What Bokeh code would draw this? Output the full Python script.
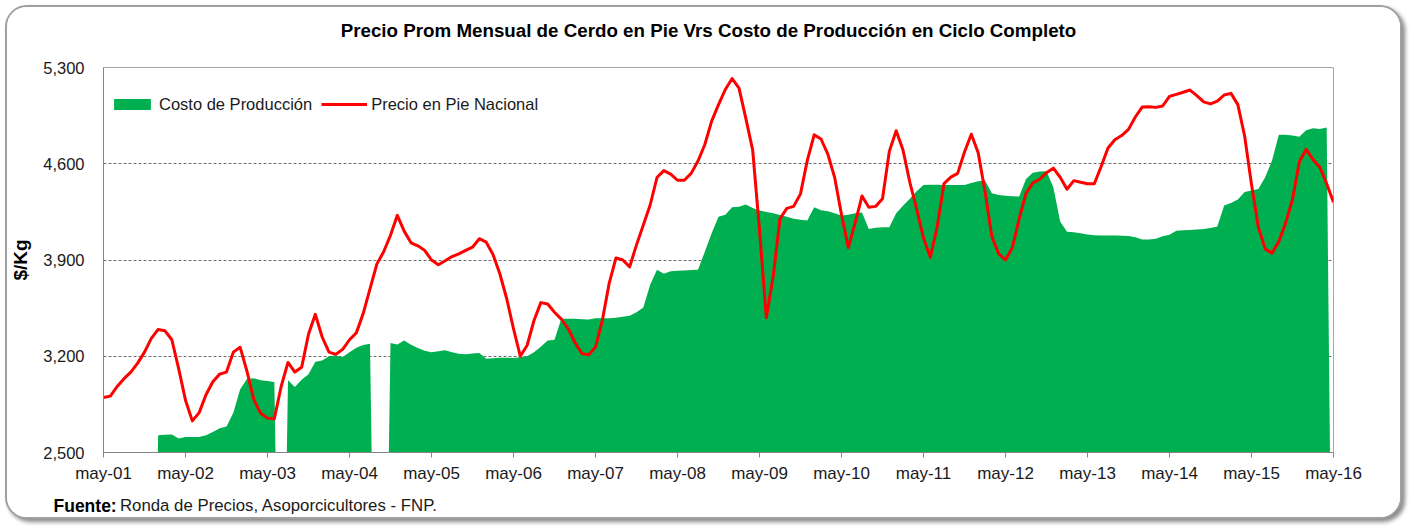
from bokeh.plotting import figure
from bokeh.layouts import column
from bokeh.models import (FixedTicker, NumeralTickFormatter, Legend, LegendItem, Label, Range1d)
from bokeh.embed import file_html
from bokeh.resources import INLINE

title_text = "Precio Prom Mensual de Cerdo en Pie Vrs Costo de Producción en Ciclo Completo"
source_bold = "Fuente:"
source_text = "Ronda de Precios, Asoporcicultores  - FNP."
y_label = "$/Kg"
series_names = ["Costo de Producción", "Precio en Pie Nacional"]

# months since may-01 (0 = may-01 ... 180 = may-16)
tick_years = ["01", "02", "03", "04", "05", "06", "07", "08", "09", "10", "11", "12", "13", "14", "15", "16"]
tick_labels = ["may-" + y for y in tick_years]
y_ticks = [2500, 3200, 3900, 4600, 5300]

precio = [
    2900, 2910, 2980, 3037, 3085, 3150, 3230, 3330, 3395, 3385, 3320, 3110,   # may-01
    2880, 2730, 2790, 2920, 3015, 3070, 3085, 3230, 3265, 3090, 2885, 2785,   # may-02
    2750, 2745, 2980, 3155, 3085, 3120, 3360, 3505, 3340, 3230, 3214, 3250,   # may-03
    3320, 3370, 3510, 3690, 3870, 3960, 4080, 4225, 4110, 4025, 4003, 3970,   # may-04
    3900, 3866, 3895, 3925, 3945, 3970, 3993, 4055, 4030, 3940, 3800, 3620,   # may-05
    3400, 3200, 3280, 3460, 3590, 3580, 3520, 3470, 3400, 3300, 3220, 3210,   # may-06
    3267, 3461, 3730, 3915, 3900, 3850, 4010, 4155, 4300, 4500, 4550, 4525,   # may-07
    4480, 4480, 4530, 4620, 4740, 4910, 5030, 5140, 5220, 5150, 4930, 4700,   # may-08
    4120, 3480, 3780, 4200, 4275, 4290, 4381, 4625, 4810, 4780, 4670, 4500,   # may-09
    4230, 3990, 4170, 4365, 4283, 4290, 4345, 4690, 4840, 4700, 4465, 4270,   # may-10
    4060, 3920, 4140, 4455, 4503, 4530, 4685, 4815, 4680, 4400, 4070, 3945,   # may-11
    3900, 3990, 4200, 4385, 4460, 4487, 4535, 4568, 4502, 4415, 4477, 4465,   # may-12
    4455, 4455, 4580, 4715, 4775, 4805, 4850, 4940, 5012, 5014, 5010, 5020,   # may-13
    5090, 5105, 5120, 5136, 5095, 5050, 5035, 5055, 5100, 5112, 5030, 4800,   # may-14
    4450, 4140, 3981, 3950, 4035, 4170, 4340, 4615, 4705, 4630, 4575, 4455,   # may-15
    4320,                                                                     # may-16
]

costo = [
    0, 0, 0, 0, 0, 0, 0, 0, 2626, 2630, 2631, 2602,                           # may-01
    2613, 2613, 2613, 2625, 2650, 2676, 2690, 2790, 2960, 3035, 3040, 3025,   # may-02
    3020, 3013, 0, 3025, 2976, 3030, 3070, 3160, 3170, 3200, 3205, 3194,      # may-03
    3230, 3262, 3282, 3291, 0, 0, 3296, 3286, 3315, 3283, 3260, 3240,         # may-04
    3230, 3236, 3243, 3230, 3218, 3214, 3220, 3223, 3182, 3186, 3190, 3190,   # may-05
    3188, 3192, 3200, 3230, 3270, 3315, 3320, 3473, 3473, 3473, 3470, 3468,   # may-06
    3476, 3477, 3477, 3480, 3488, 3495, 3520, 3555, 3720, 3830, 3800, 3819,   # may-07
    3822, 3824, 3827, 3829, 3960, 4095, 4215, 4230, 4283, 4288, 4303, 4279,   # may-08
    4260, 4250, 4240, 4228, 4215, 4200, 4192, 4187, 4283, 4262, 4255, 4240,   # may-09
    4223, 4230, 4240, 4245, 4125, 4135, 4138, 4138, 4240, 4295, 4345, 4400,   # may-10
    4445, 4448, 4448, 4446, 4446, 4446, 4446, 4460, 4472, 4478, 4385, 4372,   # may-11
    4368, 4364, 4361, 4490, 4535, 4543, 4545, 4430, 4180, 4105, 4102, 4095,   # may-12
    4085, 4080, 4078, 4078, 4078, 4076, 4074, 4065, 4050, 4050, 4054, 4073,   # may-13
    4084, 4112, 4116, 4119, 4122, 4125, 4132, 4143, 4296, 4315, 4340, 4395,   # may-14
    4405, 4417, 4501, 4622, 4811, 4811, 4805, 4797, 4843, 4858, 4853, 4864,   # may-15
    0,                                                                        # may-16
]

months = list(range(len(precio)))
tick_pos = [12 * i for i in range(len(tick_labels))]

FONT = "Liberation Sans"


def text_strip(height):
    s = figure(width=1393, height=height, output_backend="svg", toolbar_location=None,
               x_axis_location=None, y_axis_location=None, min_border=0,
               x_range=Range1d(0, 1), y_range=Range1d(0, 1),
               background_fill_color="white", border_fill_color="white")
    s.frame_align = False
    s.outline_line_color = None
    s.grid.grid_line_color = None
    return s


# header strip with the title
h = text_strip(44)
h.add_layout(Label(x=701, y=21, x_units="screen", y_units="screen", text=title_text,
                   text_align="center", text_baseline="middle", text_font=FONT,
                   text_font_size="18.75px", text_font_style="bold", text_color="#000000"))

# main chart
p = figure(width=1393, height=434, output_backend="svg", toolbar_location=None,
           x_range=Range1d(0, 180), y_range=Range1d(2500, 5300),
           min_border_left=96, min_border_right=67, min_border_top=16, min_border_bottom=33,
           background_fill_color="white", border_fill_color="white")
p.frame_align = False
p.outline_line_color = "#a6a6a6"
p.outline_line_width = 1

area = p.varea(x=months, y1=0, y2=costo, fill_color="#00B050")
line = p.line(x=months, y=precio, line_color="#FF0000", line_width=3, line_join="round")

p.xaxis.ticker = FixedTicker(ticks=tick_pos)
p.xaxis.major_label_overrides = {t: l for t, l in zip(tick_pos, tick_labels)}
p.xaxis.minor_tick_line_color = None
p.xaxis.major_tick_in = 0
p.xaxis.major_tick_out = 5
p.xaxis.major_tick_line_color = "#868686"
p.xaxis.axis_line_color = "#868686"
p.xaxis.major_label_text_font = FONT
p.xaxis.major_label_text_font_size = "17px"
p.xaxis.major_label_text_color = "#1a1a1a"
p.xaxis.major_label_standoff = 6

p.yaxis.ticker = FixedTicker(ticks=y_ticks)
p.yaxis.formatter = NumeralTickFormatter(format="0,0")
p.yaxis.minor_tick_line_color = None
p.yaxis.major_tick_in = 0
p.yaxis.major_tick_out = 0
p.yaxis.axis_line_color = "#868686"
p.yaxis.major_label_text_font = FONT
p.yaxis.major_label_text_font_size = "16.5px"
p.yaxis.major_label_text_color = "#1a1a1a"
p.yaxis.major_label_standoff = 19
p.yaxis.axis_label = y_label
p.yaxis.axis_label_text_font = FONT
p.yaxis.axis_label_text_font_size = "19px"
p.yaxis.axis_label_text_font_style = "bold"
p.yaxis.axis_label_text_color = "#000000"
p.yaxis.axis_label_standoff = 9

p.xgrid.grid_line_color = None
p.ygrid.ticker = FixedTicker(ticks=y_ticks[1:-1])
p.ygrid.grid_line_color = "#707070"
p.ygrid.grid_line_dash = "3 2"
p.ygrid.grid_line_width = 1

legend = Legend(items=[LegendItem(label=series_names[0], renderers=[area]),
                       LegendItem(label=series_names[1], renderers=[line])],
                location="top_left", orientation="horizontal",
                glyph_width=46, glyph_height=14, label_standoff=4, spacing=9,
                label_text_font=FONT, label_text_font_size="16.5px", label_text_color="#1a1a1a",
                border_line_color=None, background_fill_alpha=0, margin=6, padding=12,
                label_height=62)
p.add_layout(legend)

# footer strip with the source note
f = text_strip(32)
f.add_layout(Label(x=46, y=12, x_units="screen", y_units="screen", text=source_bold,
                   text_align="left", text_baseline="middle", text_font=FONT,
                   text_font_size="17.5px", text_font_style="bold", text_color="#000000"))
f.add_layout(Label(x=112.5, y=12, x_units="screen", y_units="screen", text=source_text,
                   text_align="left", text_baseline="middle", text_font=FONT,
                   text_font_size="16.8px", text_color="#1a1a1a"))

layout = column(h, p, f, spacing=0)
layout.styles = {"margin": "5px", "border": "2px solid #a0a0a0", "border-radius": "22px",
                 "overflow": "hidden", "box-shadow": "3px 3px 4px #888888",
                 "background-color": "white"}

open("out.html", "w").write(file_html(layout, INLINE))
